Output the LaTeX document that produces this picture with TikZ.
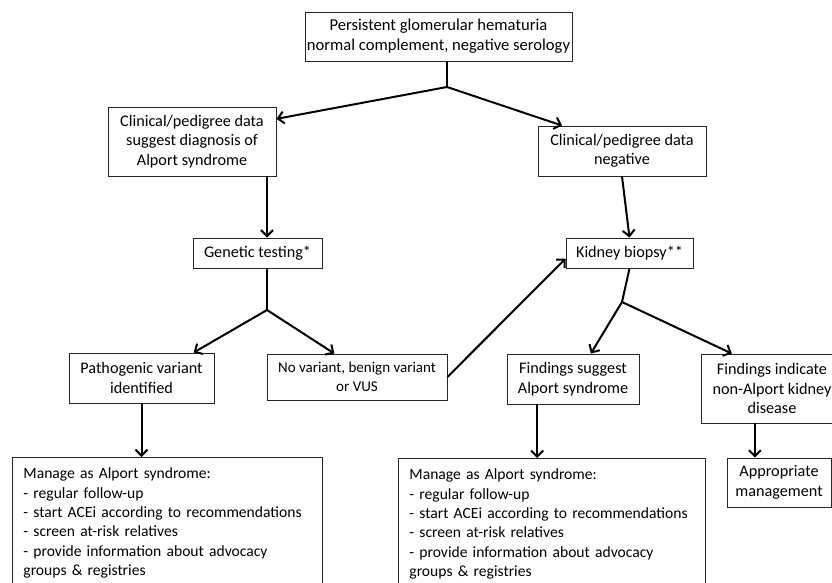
\documentclass[tikz,border=0pt]{standalone}
\usepackage{fontspec}
\setmainfont{Carlito}
\usetikzlibrary{arrows.meta,calc}
\begin{document}
\begin{tikzpicture}[x=1pt,y=-1pt,
    box/.style={draw=black!85,line width=0.9pt,align=center,inner sep=0pt,font=\fontsize{16.2}{19.5}\selectfont},
    arr/.style={line width=2pt,-{Straight Barb[length=6pt,width=12pt]}},
    ln/.style={line width=2pt}]
  \useasboundingbox (0,0) rectangle (832,583);
  \clip (0,0) rectangle (832,583);
  % boxes, top to bottom
  \node[box,minimum width=267pt,minimum height=49pt,font=\fontsize{16.6}{20}\selectfont] (hem) at (438.5,36.5) {Persistent glomerular hematuria\\normal complement, negative serology};
  \node[box,minimum width=168pt,minimum height=69pt] (clin) at (192,141.5) {Clinical/pedigree data\\suggest diagnosis of\\Alport syndrome};
  \node[box,minimum width=168pt,minimum height=50pt] (neg) at (622,151) {Clinical/pedigree data\\negative};
  \node[box,minimum width=129pt,minimum height=30pt] (gen) at (257.5,253) {Genetic testing*};
  \node[box,minimum width=127pt,minimum height=30pt] (kid) at (629.5,253) {Kidney biopsy**};
  \node[box,minimum width=145pt,minimum height=50pt] (path) at (141.5,378) {Pathogenic variant\\identified};
  \node[box,minimum width=180pt,minimum height=46pt,font=\fontsize{15}{19}\selectfont] (novar) at (357,377) {No variant, benign variant\\or VUS};
  \node[box,minimum width=132pt,minimum height=50pt] (fsug) at (573,379) {Findings suggest\\Alport syndrome};
  \node[box,minimum width=142pt,minimum height=69pt] (find) at (772,388.5) {Findings indicate\\non-Alport kidney\\disease};
  \node[box,minimum width=104pt,minimum height=49pt] (appr) at (779,482.5) {Appropriate\\management};
  \node[box,align=left,anchor=north west,text width=288pt,inner xsep=11pt,inner ysep=10.5pt,font=\fontsize{15.6}{19.4}\selectfont] (mngl) at (12,457) {Manage as Alport syndrome:\\- regular follow-up\\- start ACEi according to recommendations\\- screen at-risk relatives\\- provide information about advocacy\\groups \& registries};
  \node[box,align=left,anchor=north west,text width=285pt,inner xsep=11pt,inner ysep=10.5pt,font=\fontsize{15.6}{19.4}\selectfont] (mngr) at (398,458) {Manage as Alport syndrome:\\- regular follow-up\\- start ACEi according to recommendations\\- screen at-risk relatives\\- provide information about advocacy\\groups \& registries};
  % branch points
  \coordinate (j1) at (447,87);
  \coordinate (j2) at (267,310);
  \coordinate (j3) at (622,302);
  % connectors
  \draw[ln] (hem.south -| j1) -- (j1);
  \draw[arr] (j1) -- (clin.15);
  \draw[arr] (j1) -- (neg.157);
  \draw[arr] (clin.south -| j2) -- (gen.north -| j2);
  \draw[ln] (gen.south -| j2) -- (j2);
  \draw[arr] (j2) -- (path.26);
  \draw[arr] (j2) -- (novar.134);
  \draw[arr] (novar.east) -- (kid.185);
  \draw[arr] (neg.south) -- (kid.north);
  \draw[ln] (kid.south) -- (j3);
  \draw[arr] (j3) -- (fsug.55);
  \draw[arr] (j3) -- (find.139);
  \draw[arr] (path.south) -- (mngl.north -| path.south);
  \coordinate (fs) at ($(fsug.south west)!0.23!(fsug.south east)$);
  \draw[arr] (fs) -- (mngr.north -| fs);
  \coordinate (fi) at ($(find.south west)!0.38!(find.south east)$);
  \draw[arr] (fi) -- (appr.north -| fi);
\end{tikzpicture}
\end{document}
